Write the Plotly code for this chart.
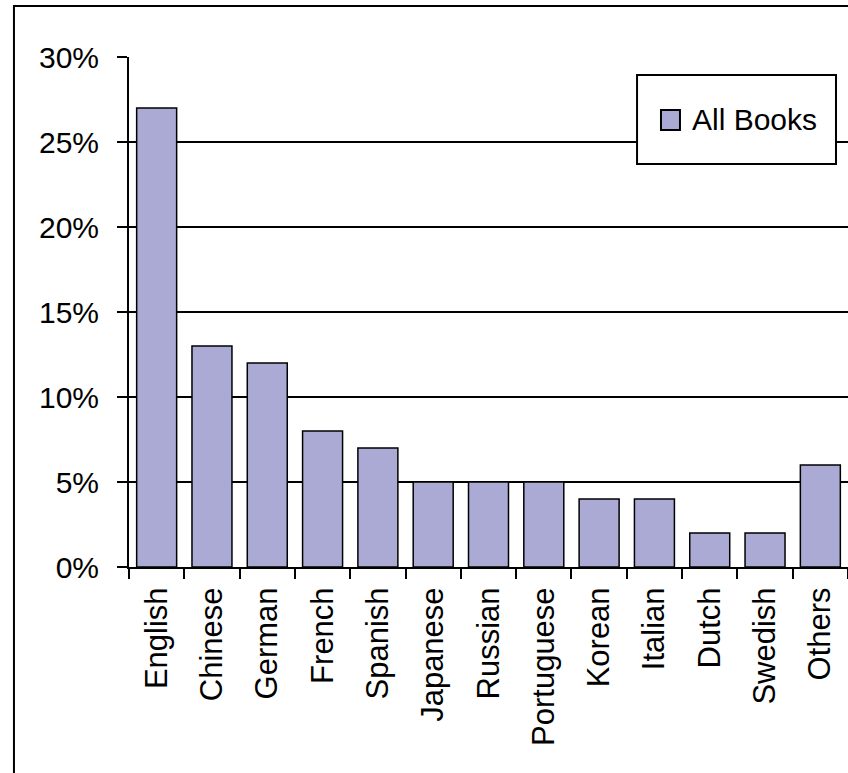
import plotly.graph_objects as go

languages = ["English", "Chinese", "German", "French", "Spanish", "Japanese",
             "Russian", "Portuguese", "Korean", "Italian", "Dutch", "Swedish", "Others"]
share_pct = [27, 13, 12, 8, 7, 5, 5, 5, 4, 4, 2, 2, 6]
series_name = "All Books"

FONT = "Liberation Sans, Arial, sans-serif"
BAR_COLOR = "#AAAAD5"

fig = go.Figure()
fig.add_trace(go.Bar(
    x=languages, y=share_pct, name=series_name,
    marker=dict(color=BAR_COLOR, line=dict(color="black", width=1.5)),
    showlegend=False,
))

# Outer frame and boxed key (paper coordinates)
shapes = [
    dict(type="rect", xref="paper", yref="paper",
         x0=-0.16, x1=1.05, y0=-0.45, y1=1.1,
         line=dict(color="black", width=2), fillcolor="rgba(0,0,0,0)"),
    dict(type="rect", xref="paper", yref="paper",
         x0=0.7066, x1=0.9833, y0=0.7902, y1=0.9647,
         line=dict(color="black", width=2), fillcolor="white"),
    dict(type="rect", xref="paper", yref="paper",
         x0=0.7399, x1=0.7663, y0=0.8569, y1=0.8961,
         line=dict(color="black", width=2), fillcolor=BAR_COLOR),
]
annotations = [
    dict(text=series_name, xref="paper", yref="paper", x=0.7800, y=0.8784,
         xanchor="left", yanchor="middle", showarrow=False,
         font=dict(size=30, family=FONT, color="black")),
]

fig.update_layout(
    width=848, height=773,
    margin=dict(l=129, r=0, t=57, b=206, pad=0),
    paper_bgcolor="white", plot_bgcolor="white",
    font=dict(family=FONT, size=30, color="black"),
    bargap=0.277,
    showlegend=False,
    xaxis=dict(type="category", showline=True, linecolor="black", linewidth=2,
               ticks="outside", ticklen=10, tickwidth=2, tickcolor="black",
               tickson="boundaries", tickangle=-90, showgrid=False,
               ticklabelstandoff=6, tickfont=dict(size=31)),
    yaxis=dict(range=[0, 30], dtick=5, ticksuffix="%", showline=True,
               linecolor="black", linewidth=2, ticks="outside", ticklen=10,
               tickwidth=2, tickcolor="black", showgrid=True, gridcolor="black",
               gridwidth=2, zeroline=False, ticklabelstandoff=12,
               tickfont=dict(size=30)),
    shapes=shapes,
    annotations=annotations,
)

fig.write_html("out.html", config={"displayModeBar": False},
               post_script="document.body.style.margin='0';")
